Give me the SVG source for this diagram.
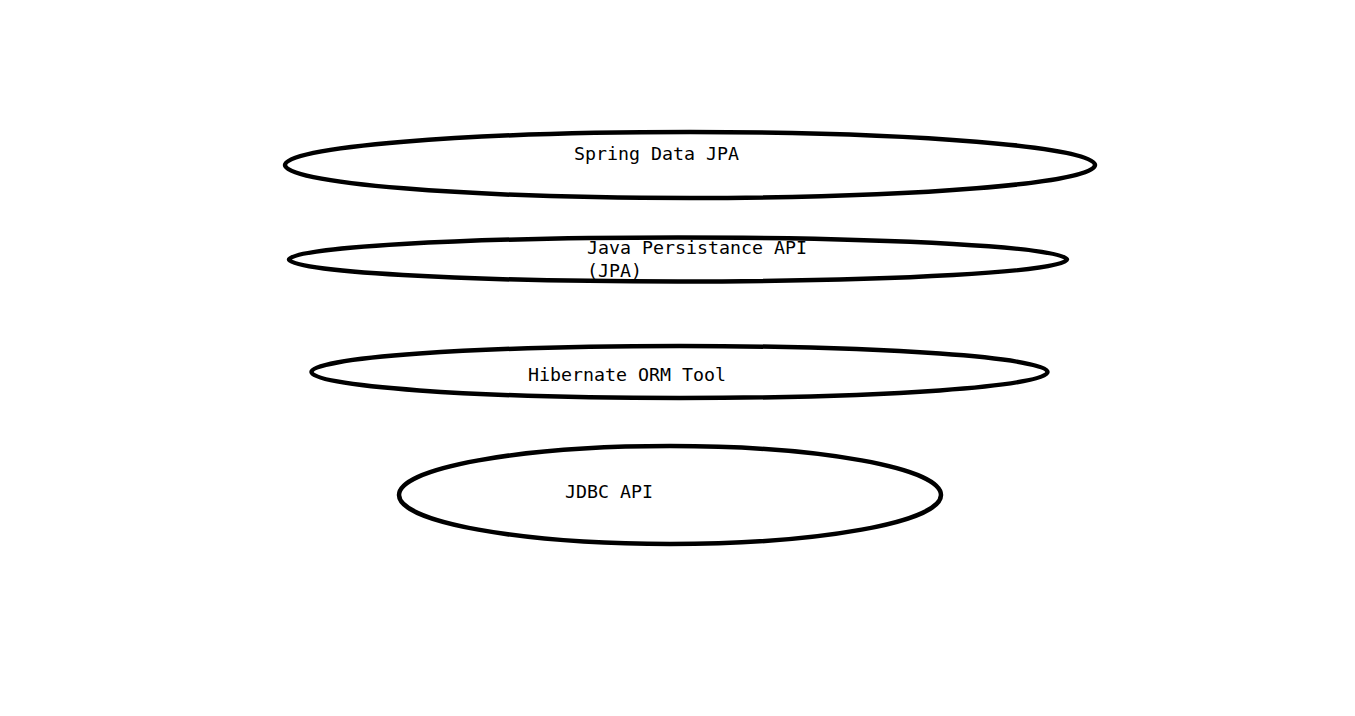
<svg xmlns="http://www.w3.org/2000/svg" width="1355" height="716" viewBox="0 0 1355 716">
<style>
.n ellipse{fill:#fff;stroke:#000;stroke-width:4.5}
.n text{font-family:"DejaVu Sans Mono","Liberation Mono",monospace;font-size:18.3px;fill:#000}
</style>
<rect width="1355" height="716" fill="#fff"/>
<g id="spring-data-jpa" class="n">
<ellipse cx="690" cy="165" rx="405" ry="33"/>
<text x="574" y="160">Spring Data JPA</text>
</g>
<g id="jpa" class="n">
<ellipse cx="678" cy="259.5" rx="389" ry="22"/>
<text x="587" y="254">Java Persistance API</text>
<text x="587" y="277">(JPA)</text>
</g>
<g id="hibernate" class="n">
<ellipse cx="679.5" cy="372" rx="368" ry="26"/>
<text x="528" y="381">Hibernate ORM Tool</text>
</g>
<g id="jdbc" class="n">
<ellipse cx="670" cy="495" rx="271" ry="49"/>
<text x="565" y="498">JDBC API</text>
</g>
<g id="connectors"></g>
</svg>
